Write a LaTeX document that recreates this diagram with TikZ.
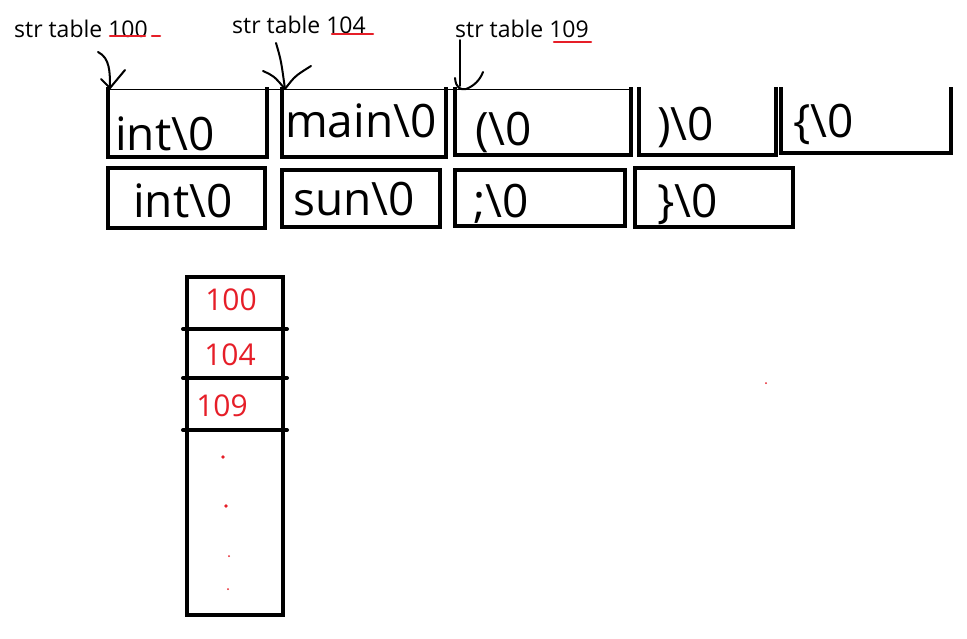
\documentclass[tikz,border=0pt]{standalone}
\usepackage{fontspec}
\setmainfont{Open Sans}
\usetikzlibrary{calc}
\definecolor{penred}{RGB}{230,30,40}
\begin{document}
\begin{tikzpicture}[x=1pt,y=-1pt,
  cell/.style={draw=none, inner sep=0, outer sep=0, anchor=north west},
  big/.style={font=\fontsize{46}{46}\selectfont, inner sep=0, anchor=base west},
  tag/.style={font=\fontsize{23}{23}\selectfont, inner sep=0, anchor=base west},
  hand/.style={font=\fontsize{30}{30}\selectfont, text=penred, inner sep=0},
  thickedge/.style={line width=4pt, line cap=rect, line join=miter},
  thinedge/.style={line width=1pt},
  pen/.style={line width=2pt, line cap=round, line join=round},
  redpen/.style={draw=penred, line width=2.5pt, line cap=round},
  dot/.style={fill=penred, draw=none}
]
\useasboundingbox (0,0) rectangle (967,638);
\fill[white] (0,0) rectangle (967,638);

% top row cells
\node[cell, minimum width=159, minimum height=68] (t1) at (108,89) {};
\node[cell, minimum width=164, minimum height=68] (t2) at (282,89) {};
\node[cell, minimum width=176, minimum height=66] (t3) at (455,89) {};
\node[cell, minimum width=137, minimum height=66] (t4) at (639,89) {};
\node[cell, minimum width=170, minimum height=64] (t5) at (781,89) {};
% bottom row cells
\node[cell, minimum width=157, minimum height=60] (b1) at (108,168) {};
\node[cell, minimum width=158, minimum height=57] (b2) at (282,170) {};
\node[cell, minimum width=170, minimum height=56] (b3) at (455,170) {};
\node[cell, minimum width=158, minimum height=59] (b4) at (635,168) {};

\foreach \n in {t1,t2,t3,t4,t5}
  \draw[thickedge] (\n.north west) -- (\n.south west) -- (\n.south east) -- (\n.north east);
\draw[thinedge] (t1.north west) -- (t3.north east);
\foreach \n in {b1,b2,b3,b4}
  \draw[thickedge] (\n.north west) rectangle (\n.south east);

% cell texts
\node[big] (t1l) at (115,150) {int\textbackslash 0};
\node[big] (t2l) at (285,137) {main\textbackslash 0};
\node[big] (t3l) at (475,145) {(\textbackslash 0};
\node[big] (t4l) at (657,140) {)\textbackslash 0};
\node[big] (t5l) at (793,137) {\{\textbackslash 0};
\node[big] (b1l) at (133,217) {int\textbackslash 0};
\node[big] (b2l) at (293,215) {sun\textbackslash 0};
\node[big] (b3l) at (473,217) {;\textbackslash 0};
\node[big] (b4l) at (657,217) {\}\textbackslash 0};

% labels
\node[tag] (l1) at (14,37) {str table 100};
\node[tag] (l2) at (232,33) {str table 104};
\node[tag] (l3) at (455,37) {str table 109};
\draw[redpen] (110,36) -- (145,36);
\draw[redpen] (152,36) -- (160,36);
\draw[redpen] (332,34) -- (373,34);
\draw[redpen] (554,42) -- (591,42);

% hand-drawn arrows
\coordinate (a1s) at (98,52);
\coordinate (a2s) at (276,43);
\coordinate (a3s) at (460,40);
\coordinate (a3t) at (466,89);
\draw[pen] (a1s) .. controls (110,58) and (110,72) .. ($(t1.north west)+(2,-1)$);
\draw[pen] (101,79) -- ($(t1.north west)+(2,-1)$) -- (125,70);
\draw[pen] (a2s) .. controls (281,60) .. ($(t2.north west)+(3,0)$);
\draw[pen] (263,71) .. controls (274,76) .. ($(t2.north west)+(3,0)$) .. controls (295,76) .. (311,66);
\draw[pen] (a3s) -- (460,86);
\draw[pen] (455,78) .. controls (456,88) and (460,90) .. (a3t) .. controls (474,86) and (480,80) .. (483,72);

% stack
\node[cell, minimum width=96, minimum height=52] (s1) at (187,277) {};
\node[cell, minimum width=96, minimum height=49] (s2) at (187,329) {};
\node[cell, minimum width=96, minimum height=52] (s3) at (187,378) {};
\node[cell, minimum width=96, minimum height=185] (s4) at (187,430) {};
\draw[thickedge] (s1.north west) rectangle (s4.south east);
\foreach \n in {s1,s2,s3}
  \draw[line width=4pt, line cap=round] ($(\n.south west)+(-4,0)$) -- ($(\n.south east)+(4,0)$);

\node[hand] (n1) at (231,300) {100};
\node[hand] (n2) at (230,355) {104};
\node[hand] (n3) at (222,406) {109};

\fill[dot] (223,457) circle (1.8);
\fill[dot] (226,506) circle (1.8);
\fill[dot] (229,556) circle (1);
\fill[dot] (228,589) circle (1);
\fill[dot] (766,383) circle (1);
\end{tikzpicture}
\end{document}
